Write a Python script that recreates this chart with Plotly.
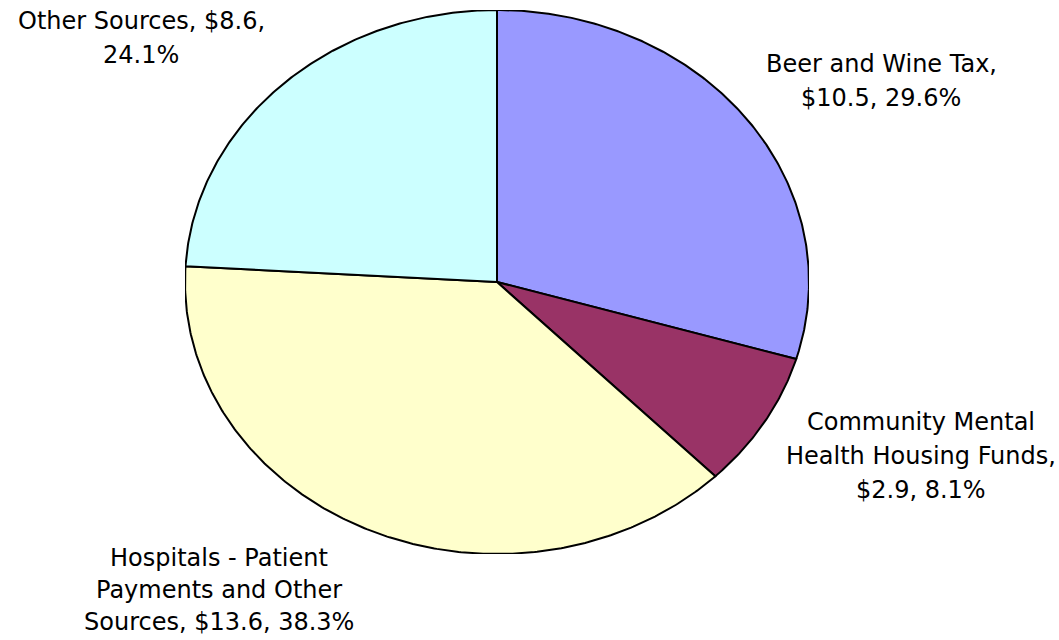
import textwrap
import numpy as np
import plotly.graph_objects as go

# Funding sources (in millions) and their shares of the total
categories = [
    "Beer and Wine Tax",
    "Community Mental Health Housing Funds",
    "Hospitals - Patient Payments and Other Sources",
    "Other Sources",
]
amounts = [10.5, 2.9, 13.6, 8.6]
percents = [29.6, 8.1, 38.3, 24.1]
colors = ["#9999FF", "#993366", "#FFFFCC", "#CCFFFF"]

# Pixel geometry of the page and of the (stretched) pie
W, H = 1059, 640
CX, CY, RX, RY = 497, 282, 312, 272

# Label anchors: centre x of the block, centre y of its first line, line pitch (pixels)
label_pos = [(881, 64, 34), (921, 422, 34), (219, 558, 32), (141, 21, 34)]
FONT = dict(family="DejaVu Sans", size=24, color="#000000")

fig = go.Figure()

# Slices run clockwise from 12 o'clock on the unit circle; the axes stretch it
total = sum(percents)
start = 0.0
for name, amt, pct, col in zip(categories, amounts, percents, colors):
    sweep = 2 * np.pi * pct / total
    n = max(int(pct * 8), 12)
    th = np.linspace(start, start + sweep, n)
    xs = np.concatenate([[0.0], np.sin(th), [0.0]])
    ys = np.concatenate([[0.0], np.cos(th), [0.0]])
    fig.add_trace(go.Scatter(
        x=xs, y=ys, mode="lines", fill="toself", fillcolor=col,
        line=dict(color="#000000", width=2), name=name,
        hoverinfo="text", text=f"{name}, ${amt:.1f}, {pct:.1f}%",
        showlegend=False,
    ))
    start += sweep

# Data labels, one annotation per wrapped line
for name, amt, pct, (px, py, pitch) in zip(categories, amounts, percents, label_pos):
    lines = textwrap.wrap(f"{name}, ${amt:.1f}, {pct:.1f}%", 21)
    for i, line in enumerate(lines):
        yy = py + i * pitch
        fig.add_annotation(
            x=(px - (CX - RX)) / (2 * RX),
            y=((CY + RY) - yy) / (2 * RY),
            xref="paper", yref="paper",
            text=line, showarrow=False, font=FONT, borderpad=0,
            xanchor="center", yanchor="middle",
        )

fig.update_layout(
    width=W, height=H,
    margin=dict(l=CX - RX, r=W - (CX + RX), t=CY - RY, b=H - (CY + RY), pad=0),
    paper_bgcolor="#FFFFFF", plot_bgcolor="#FFFFFF",
    xaxis=dict(range=[-1, 1], visible=False, fixedrange=True),
    yaxis=dict(range=[-1, 1], visible=False, fixedrange=True),
    showlegend=False,
)

fig.write_html("out.html", config={"displayModeBar": False})
